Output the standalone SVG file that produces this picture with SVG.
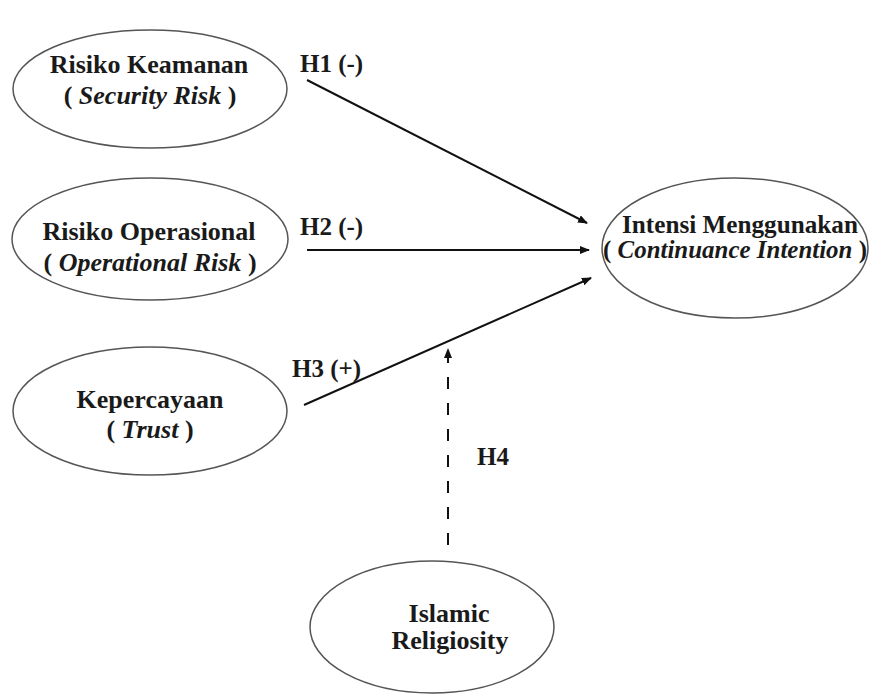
<svg xmlns="http://www.w3.org/2000/svg" width="869" height="695" viewBox="0 0 869 695">
<style>
.node ellipse{fill:#fff;stroke:#555;stroke-width:1.5}
text{font-family:"Liberation Serif","Times New Roman",serif;font-weight:bold;fill:#1a1a1a;text-anchor:middle}
.t{font-size:26px}
.i{font-style:italic}
.lbl{font-size:25px;text-anchor:start}
.conn line{stroke:#111;stroke-width:2}
</style>
<defs>
<marker id="ah" markerWidth="10" markerHeight="8" refX="9" refY="4" orient="auto" markerUnits="userSpaceOnUse">
<path d="M0,0 L10,4 L0,8 Z" fill="#111"/>
</marker>
</defs>
<rect width="869" height="695" fill="#fff"/>
<g id="n-security" class="node">
<ellipse cx="150" cy="89" rx="137" ry="59"/>
<text class="t" x="149" y="73">Risiko Keamanan</text>
<text class="t" x="150" y="104">( <tspan class="i">Security Risk</tspan> )</text>
</g>
<g id="n-operational" class="node">
<ellipse cx="150" cy="239" rx="138" ry="61"/>
<text class="t" x="149" y="240">Risiko Operasional</text>
<text class="t" x="150" y="271">( <tspan class="i">Operational Risk</tspan> )</text>
</g>
<g id="n-trust" class="node">
<ellipse cx="150" cy="411" rx="137" ry="64"/>
<text class="t" x="150" y="408">Kepercayaan</text>
<text class="t" x="150" y="438">( <tspan class="i">Trust</tspan> )</text>
</g>
<g id="n-intention" class="node">
<ellipse cx="735" cy="248" rx="133" ry="70"/>
<text x="740" y="233" style="font-size:25px" textLength="236" lengthAdjust="spacingAndGlyphs">Intensi Menggunakan</text>
<text x="735" y="258" style="font-size:25px" textLength="264" lengthAdjust="spacingAndGlyphs">( <tspan class="i">Continuance Intention</tspan> )</text>
</g>
<g id="n-religiosity" class="node">
<ellipse cx="432" cy="627" rx="122" ry="66"/>
<text class="t" x="449" y="622">Islamic</text>
<text class="t" x="450" y="649">Religiosity</text>
</g>
<g id="connectors" class="conn">
<line x1="307" y1="80" x2="587" y2="223" marker-end="url(#ah)"/>
<line x1="307" y1="250" x2="589" y2="250" marker-end="url(#ah)"/>
<line x1="304" y1="405" x2="591" y2="278" marker-end="url(#ah)"/>
<line x1="448" y1="545" x2="448" y2="349" stroke-dasharray="12 14" marker-end="url(#ah)"/>
</g>
<g id="labels">
<text class="lbl" x="300" y="72">H1 (-)</text>
<text class="lbl" x="300" y="235">H2 (-)</text>
<text class="lbl" x="292" y="377">H3 (+)</text>
<text class="lbl" x="477" y="465">H4</text>
</g>
</svg>
